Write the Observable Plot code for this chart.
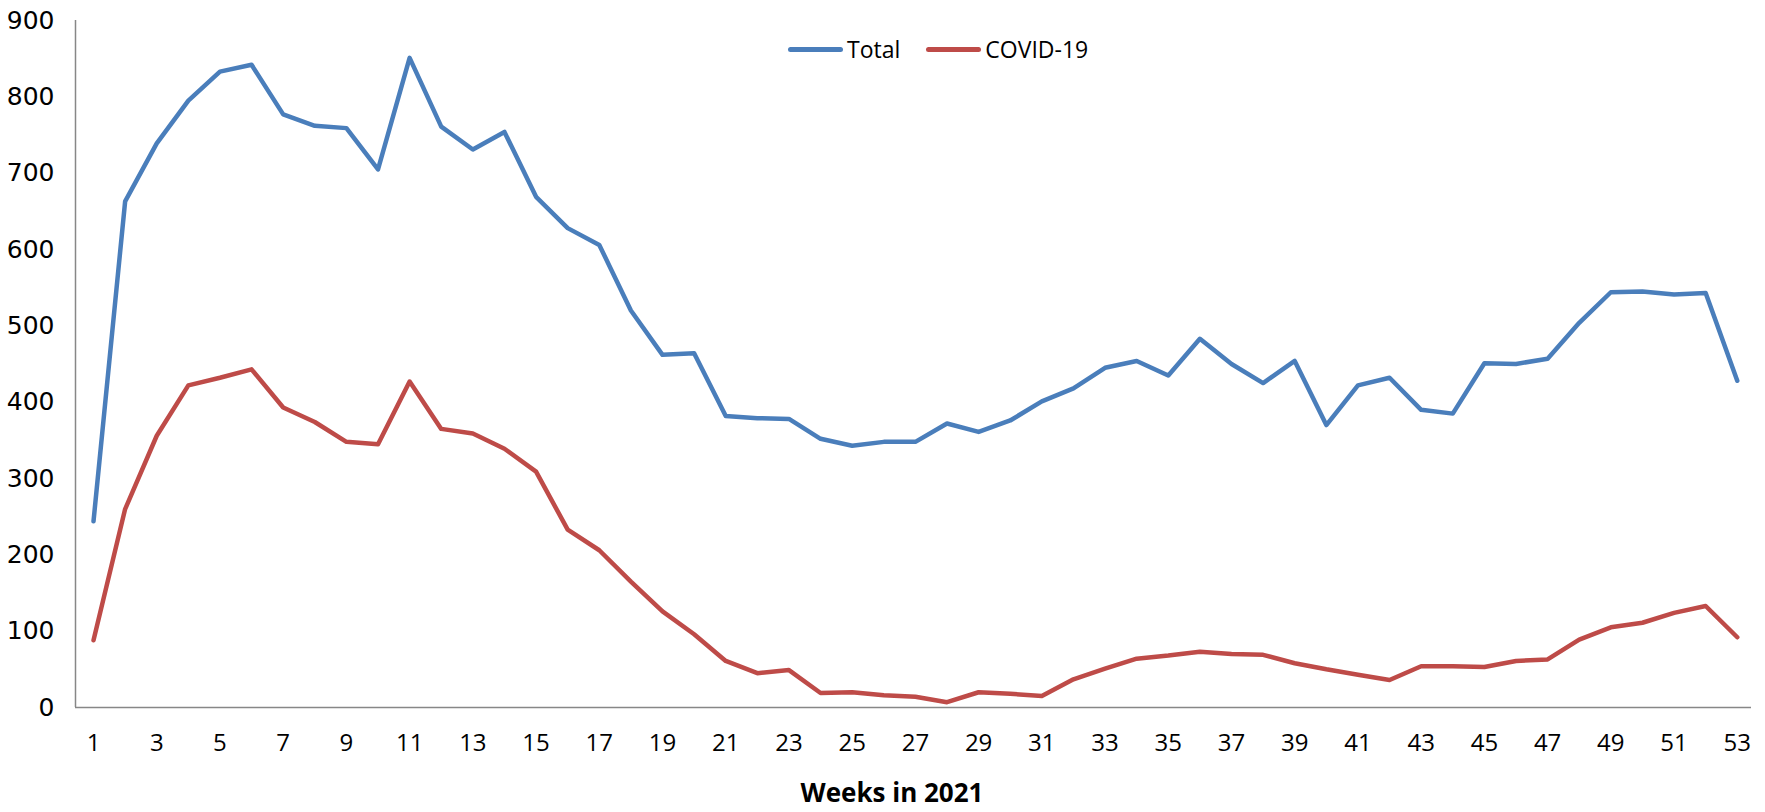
<!DOCTYPE html>
<html>
<head>
<meta charset="utf-8">
<script src="https://cdn.jsdelivr.net/npm/d3@7"></script>
<script src="https://cdn.jsdelivr.net/npm/@observablehq/plot@0.6"></script>
<style>
  html, body { margin: 0; padding: 0; background: #fff; }
  #wrap { position: relative; width: 1765px; height: 812px; background: #fff; }
  #legend { position: absolute; left: 788px; top: 33px; display: flex; align-items: center;
            font-family: "Open Sans", sans-serif; font-size: 23px; color: #000; }
  #legend .sw { display: inline-block; width: 55px; height: 5px; border-radius: 3px; margin-right: 4px; }
  #legend .item { display: flex; align-items: center; margin-right: 26px; }
  #caption { position: absolute; left: 0; width: 1784px; top: 779px; text-align: center; line-height: 26px;
             font-family: "Open Sans", sans-serif; font-weight: bold; font-size: 26px; color: #000; }
  g[aria-label="y-axis tick label"] text { font-family: "DejaVu Sans", sans-serif; font-size: 25px; }
  g[aria-label="x-axis tick label"] text { font-family: "Open Sans", sans-serif; font-size: 24px; }
</style>
</head>
<body>
<div id="wrap">
  <div id="chart"></div>
  <div id="legend"></div>
  <div id="caption">Weeks in 2021</div>
</div>
<script>
const weeks = d3.range(1, 54);
const seriesNames = ["Total", "COVID-19"];
const seriesColors = ["#4A7EBB", "#BE4B48"];
const totalValues = [244, 663, 739, 795, 833, 842, 777, 762, 759, 705,
                     851, 761, 731, 754, 669, 628, 606, 520, 462, 464,
                     382, 379, 378, 352, 343, 348, 348, 372, 361, 376,
                     401, 418, 445, 454, 435, 483, 450, 425, 454, 370,
                     422, 432, 390, 385, 451, 450, 457, 504, 544, 545,
                     541, 543, 428];
const covidValues = [88, 260, 356, 422, 432, 443, 393, 374, 348, 345,
                     427, 365, 359, 339, 309, 233, 206, 165, 126, 96,
                     61, 45, 49, 19, 20, 16, 14, 7, 20, 18,
                     15, 37, 51, 64, 68, 73, 70, 69, 58, 50,
                     43, 36, 54, 54, 53, 61, 63, 89, 105, 111,
                     124, 133, 92];
const xTicks = d3.range(1, 54, 2);
const yTicks = [0, 100, 200, 300, 400, 500, 600, 700, 800, 900];
const xDomain = [0.43, 53.45];

const data = [];
weeks.forEach((w, i) => {
  data.push({week: w, value: totalValues[i], series: seriesNames[0]});
});
weeks.forEach((w, i) => {
  data.push({week: w, value: covidValues[i], series: seriesNames[1]});
});

const chart = Plot.plot({
  width: 1765,
  height: 775,
  marginLeft: 75,
  marginRight: 14,
  marginTop: 20,
  marginBottom: 68,
  style: {background: "#fff", color: "#000", fontFamily: "Open Sans, sans-serif"},
  x: {type: "linear", domain: xDomain},
  y: {domain: [0, 900]},
  color: {domain: seriesNames, range: seriesColors},
  marks: [
    Plot.axisY(yTicks, {tickSize: 0, tickPadding: 21, label: null, fontSize: 25, fontFamily: "DejaVu Sans, sans-serif"}),
    Plot.axisX(xTicks, {tickSize: 0, tickPadding: 26, label: null, tickFormat: d => String(d), fontSize: 24, fontFamily: "Open Sans, sans-serif"}),
    Plot.ruleX([xDomain[0]], {stroke: "#878787", strokeWidth: 1.5}),
    Plot.ruleY([0], {stroke: "#878787", strokeWidth: 1.5}),
    Plot.line(data, {x: "week", y: "value", z: "series", stroke: "series", strokeWidth: 4.5,
                     strokeLinejoin: "round", strokeLinecap: "round"})
  ]
});
document.getElementById("chart").appendChild(chart);

const legend = document.getElementById("legend");
seriesNames.forEach((name, i) => {
  const item = document.createElement("span");
  item.className = "item";
  const sw = document.createElement("span");
  sw.className = "sw";
  sw.style.background = seriesColors[i];
  item.appendChild(sw);
  item.appendChild(document.createTextNode(name));
  legend.appendChild(item);
});
</script>
</body>
</html>
